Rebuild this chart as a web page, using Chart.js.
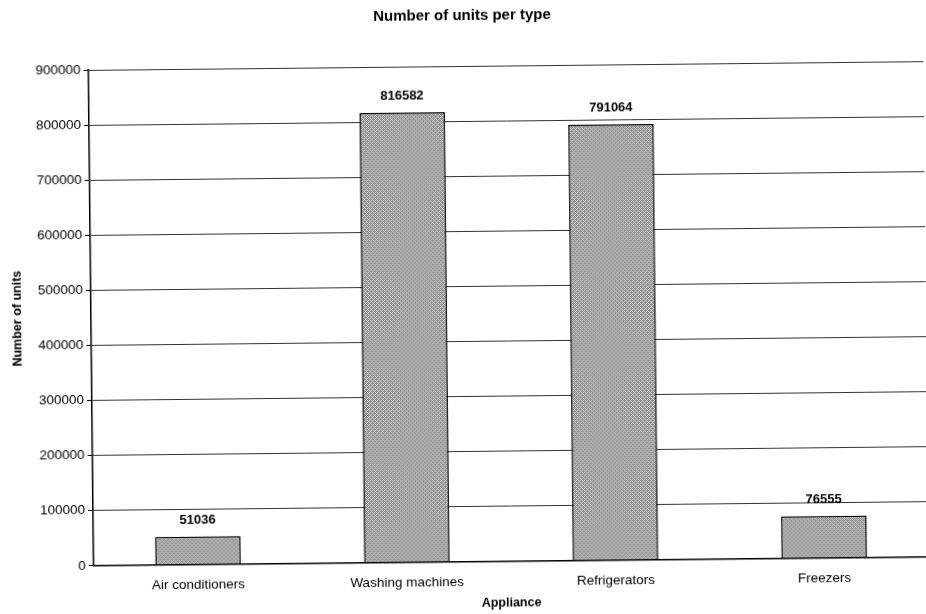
<!DOCTYPE html>
<html>
<head>
<meta charset="utf-8">
<script src="https://cdn.jsdelivr.net/npm/chart.js@4.4.1/dist/chart.umd.min.js"></script>
<style>
  html, body { margin: 0; padding: 0; background: #fff; }
  #wrap { width: 926px; height: 614px; transform: rotate(-0.6deg); transform-origin: 50% 50%; }
</style>
</head>
<body>
<div id="wrap"><canvas id="c" width="926" height="614"></canvas></div>
<script>
const categories = ['Air conditioners', 'Washing machines', 'Refrigerators', 'Freezers'];
const units = [51036, 816582, 791064, 76555];
const yTicks = [0, 100000, 200000, 300000, 400000, 500000, 600000, 700000, 800000, 900000];

// dithered grey fill for the bars
function ditherPattern() {
  const p = document.createElement('canvas');
  p.width = 4; p.height = 4;
  const g = p.getContext('2d');
  g.fillStyle = '#d8d8d8';
  g.fillRect(0, 0, 4, 4);
  g.fillStyle = '#808080';
  [[0,0],[2,0],[1,1],[3,1],[0,2],[2,2],[1,3],[3,3]].forEach(([x, y]) => g.fillRect(x, y, 1, 1));
  g.fillStyle = '#a8a8a8';
  g.fillRect(1, 0, 1, 1); g.fillRect(3, 2, 1, 1);
  return g.createPattern(p, 'repeat');
}

const font = "'Liberation Sans', Arial, sans-serif";

const valueLabels = {
  id: 'valueLabels',
  afterDatasetsDraw(chart) {
    const ctx = chart.ctx;
    const meta = chart.getDatasetMeta(0);
    ctx.save();
    ctx.font = 'bold 13px ' + font;
    ctx.fillStyle = '#000';
    ctx.textAlign = 'center';
    ctx.textBaseline = 'bottom';
    meta.data.forEach((bar, i) => {
      ctx.fillText(String(units[i]), bar.x, bar.y - 10);
    });
    ctx.restore();
  }
};

new Chart(document.getElementById('c'), {
  type: 'bar',
  data: {
    labels: categories,
    datasets: [{
      data: units,
      backgroundColor: ditherPattern(),
      borderColor: '#000',
      borderWidth: 1.5,
      borderSkipped: 'bottom',
      categoryPercentage: 0.82,
      barPercentage: 0.5
    }]
  },
  options: {
    responsive: false,
    animation: false,
    layout: { padding: { left: 4, right: 0, top: 0, bottom: 3 } },
    plugins: {
      legend: { display: false },
      tooltip: { enabled: false },
      title: {
        display: true,
        text: 'Number of units per type',
        color: '#000',
        font: { family: font, size: 15, weight: 'bold' },
        padding: { top: 7, bottom: 41 }
      }
    },
    scales: {
      x: {
        grid: { display: false },
        border: { display: true, color: '#000', width: 1.5 },
        ticks: { color: '#000', font: { family: font, size: 13.5 }, padding: 4.5 },
        title: {
          display: true, text: 'Appliance', color: '#000',
          font: { family: font, size: 12.5, weight: 'bold' }, padding: { top: 1, bottom: 0 }
        }
      },
      y: {
        min: 0, max: 900000,
        afterBuildTicks(axis) { axis.ticks = yTicks.map(v => ({ value: v })); },
        grid: { color: '#333', lineWidth: 1, tickLength: 5, drawTicks: true, tickColor: '#000' },
        border: { display: true, color: '#000', width: 1.5 },
        ticks: { color: '#000', font: { family: font, size: 13.5 }, padding: 3, callback: v => String(v) },
        title: {
          display: true, text: 'Number of units', color: '#000',
          font: { family: font, size: 12.5, weight: 'bold' }, padding: { top: 6, bottom: 10 }
        }
      }
    }
  },
  plugins: [valueLabels]
});
</script>
</body>
</html>
